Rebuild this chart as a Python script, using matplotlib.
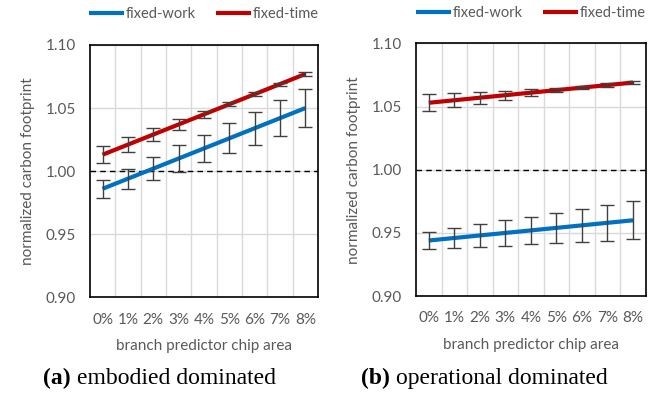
import matplotlib.pyplot as plt
import numpy as np

plt.rcParams['font.family'] = ['Lato', 'DejaVu Sans']

area_labels = ['0%', '1%', '2%', '3%', '4%', '5%', '6%', '7%', '8%']

# embodied dominated
emb_work = [0.986, 0.994, 1.002, 1.010, 1.018, 1.026, 1.034, 1.042, 1.050]
emb_work_err = [0.007, 0.008, 0.009, 0.0105, 0.011, 0.012, 0.013, 0.014, 0.015]
emb_time = [1.013, 1.021, 1.029, 1.037, 1.045, 1.053, 1.061, 1.069, 1.077]
emb_time_err = [0.0069, 0.0058, 0.0049, 0.004, 0.0026, 0.0017, 0.0014, 0.0012, 0.0013]

# operational dominated
op_work = [0.944, 0.946, 0.948, 0.950, 0.952, 0.954, 0.956, 0.958, 0.960]
op_work_err = [0.0069, 0.008, 0.009, 0.010, 0.011, 0.012, 0.013, 0.014, 0.015]
op_time = [1.053, 1.055, 1.057, 1.059, 1.061, 1.063, 1.065, 1.067, 1.069]
op_time_err = [0.0066, 0.0056, 0.0046, 0.0036, 0.0026, 0.0016, 0.0014, 0.0013, 0.0013]

blue = '#0070c0'
red = '#c00000'
grey_txt = '#595959'

fig = plt.figure(figsize=(6.51, 3.98), dpi=100)
ax1 = fig.add_axes([0.138, 0.253, 0.3505, 0.634])
ax2 = fig.add_axes([0.639, 0.256, 0.353, 0.635])


def draw(ax, work, work_err, t, t_err):
    x = np.arange(len(area_labels))
    ax.axhline(1.0, color='black', linestyle=(0, (4, 3)), linewidth=1.0, zorder=2)
    ax.plot(x, work, color=blue, linewidth=3, solid_capstyle='butt', label='fixed-work', zorder=3)
    ax.plot(x, t, color=red, linewidth=3, solid_capstyle='butt', label='fixed-time', zorder=3)
    ax.errorbar(x, work, yerr=work_err, fmt='none', ecolor='#404040', elinewidth=1,
                capsize=5, capthick=1, zorder=4)
    ax.errorbar(x, t, yerr=t_err, fmt='none', ecolor='#404040', elinewidth=1,
                capsize=5, capthick=1, zorder=4)
    ax.set_xlim(-0.5, len(area_labels) - 0.5)
    ax.set_ylim(0.90, 1.10)
    ax.set_xticks(x)
    ax.set_xticklabels(area_labels)
    ax.set_xticks(np.arange(0.5, len(area_labels) - 1, 1.0), minor=True)
    ax.set_yticks([0.90, 0.95, 1.00, 1.05, 1.10])
    ax.set_yticklabels(['%.2f' % v for v in [0.90, 0.95, 1.00, 1.05, 1.10]])
    ax.grid(True, which='minor', axis='x', color='#d9d9d9', linewidth=1)
    ax.grid(True, which='major', axis='y', color='#d9d9d9', linewidth=1)
    ax.set_axisbelow(True)
    ax.tick_params(which='both', length=0, labelsize=11, labelcolor=grey_txt)
    ax.tick_params(axis='x', pad=11)
    ax.tick_params(axis='y', pad=10)
    for s in ax.spines.values():
        s.set_color('black')
        s.set_linewidth(1.2)
    ax.set_xlabel('branch predictor chip area', fontsize=11, color=grey_txt, labelpad=9)
    ax.set_ylabel('normalized carbon footprint', fontsize=11, color=grey_txt, labelpad=8)
    leg = ax.legend(loc='lower center', bbox_to_anchor=(0.5, 1.07), ncol=2, frameon=False,
                    fontsize=10.5, handlelength=2.4, handletextpad=0.1, columnspacing=1.4,
                    borderaxespad=0)
    for txt in leg.get_texts():
        txt.set_color(grey_txt)


draw(ax1, emb_work, emb_work_err, emb_time, emb_time_err)
draw(ax2, op_work, op_work_err, op_time, op_time_err)

# sub-figure captions: bold tag followed by plain text
serif = ['Liberation Serif', 'DejaVu Serif']
renderer = fig.canvas.get_renderer()
for x0, tag, caption in [(43, '(a)', 'embodied dominated'), (361, '(b)', 'operational dominated')]:
    t = fig.text(x0 / 651, 0.035, tag, fontsize=17, fontweight='bold', family=serif,
                 va='baseline')
    bb = t.get_window_extent(renderer)
    fig.text((bb.x1 + 6) / 651, 0.035, caption, fontsize=17, family=serif, va='baseline')

fig.savefig('out.png', dpi=100)
